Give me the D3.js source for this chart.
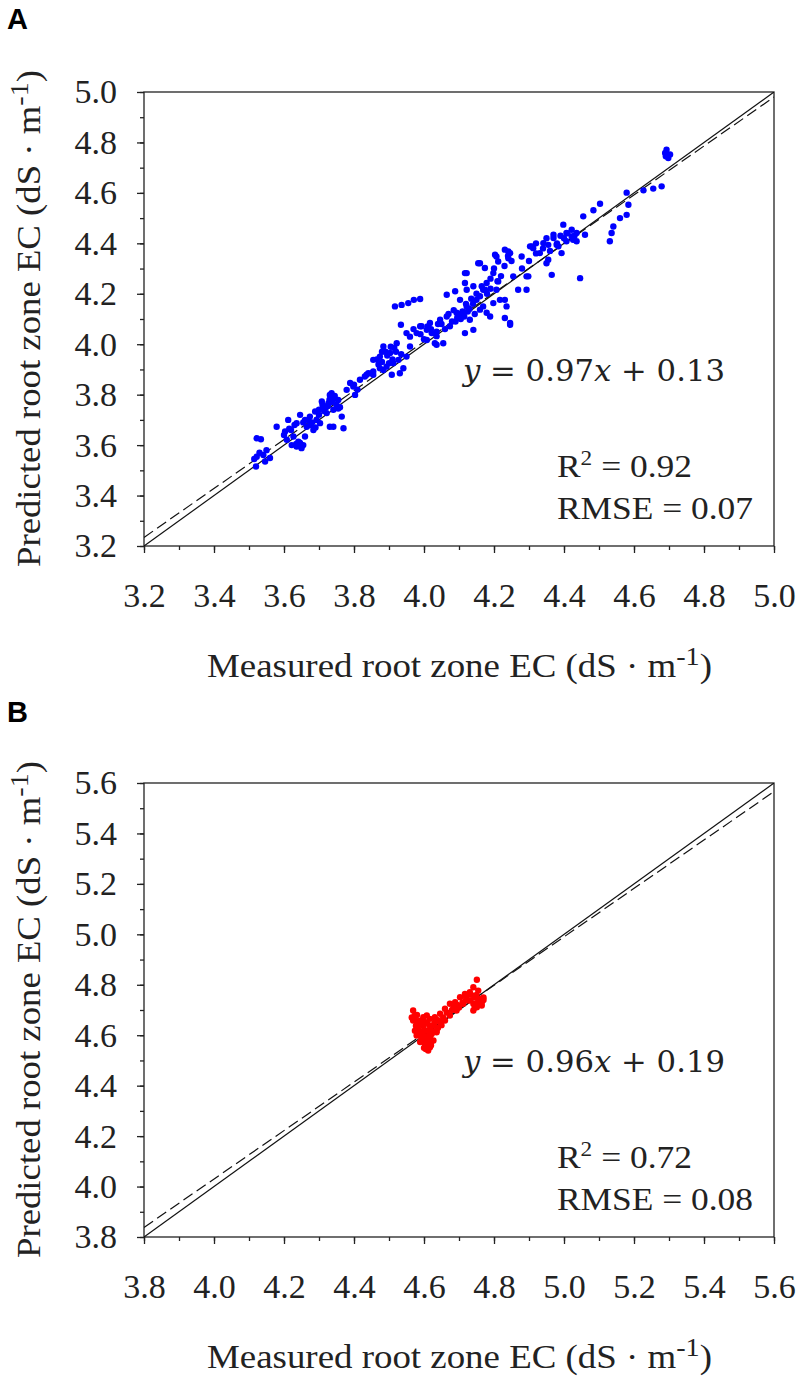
<!DOCTYPE html>
<html>
<head>
<meta charset="utf-8">
<script src="https://cdn.jsdelivr.net/npm/d3@7"></script>
<style>
  body { margin: 0; background: #fff; }
  svg { display: block; }
</style>
</head>
<body>
<svg id="chart" width="800" height="1382"></svg>
<script>
// panel A: measured vs predicted root zone EC (blue)
var measuredA = [
  3.522,3.534,3.522,3.541,3.546,3.520,3.560,3.530,3.550,3.515,
  3.579,3.603,3.608,3.612,3.636,3.641,3.650,3.646,3.665,3.674,
  3.689,3.693,3.712,3.708,3.727,3.736,3.722,3.741,3.731,3.765,
  3.770,3.755,3.779,3.789,3.803,3.817,3.831,3.841,3.627,3.660,
  3.684,3.703,3.622,3.646,3.636,3.650,3.640,3.645,3.655,3.635,
  3.741,3.731,3.798,3.836,3.855,3.620,3.680,3.700,3.720,3.750,
  3.760,3.740,3.660,3.690,3.800,3.810,
  3.700,3.710,3.730,3.745,3.725,3.715,3.755,3.735,
  3.600,3.615,3.630,3.655,3.670,3.675,
  3.855,3.884,3.903,3.912,3.893,3.874,3.922,3.851,3.931,3.908,
  3.950,3.960,3.874,3.927,3.884,3.855,3.941,3.890,3.915,3.935,3.870,
  3.880,3.895,3.905,3.920,3.910,3.900,3.865,3.880,
  3.917,3.936,3.955,3.971,3.989,3.934,
  3.979,3.993,3.950,4.008,4.022,4.036,4.031,3.989,4.008,4.017,
  4.036,4.046,4.065,4.074,4.093,4.103,4.122,4.131,4.141,4.117,
  4.055,4.036,4.065,4.089,4.117,4.122,4.141,4.150,4.160,4.169,
  4.179,4.155,4.174,4.198,4.203,4.212,4.231,4.246,4.241,4.207,
  4.198,4.217,4.236,4.179,4.189,4.231,4.246,4.169,4.255,4.269,
  4.293,4.279,4.298,4.303,4.312,4.331,4.341,4.355,4.365,4.370,
  4.379,4.100,4.110,4.105,4.115,4.095,4.080,4.130,4.140,4.160,
  4.180,4.190,4.210,4.060,4.050,4.000,
  3.960,3.970,3.990,4.010,4.020,4.040,
  4.070,4.085,4.090,4.120,4.125,4.135,4.150,4.165,4.145,
  4.190,4.200,4.220,4.230,4.240,4.250,
  4.280,4.300,4.320,4.350,4.360,4.390,4.410,4.430,
  4.689,4.693,4.698,4.703,4.691,4.679,4.655,4.627,4.579,4.584,
  4.579,4.560,4.541,4.536,4.531,4.503,4.484,4.455,4.446,4.460,
  4.398,4.422,4.436,4.370,4.407,4.384,4.393,4.355,4.350,4.308,
  4.293,4.241,4.207,4.160,4.117,4.122,4.174,4.212,4.231,4.246,
  4.407,4.422,4.436,4.426,4.400,4.380,4.320,4.340
];
var predictedA = [
  3.627,3.623,3.554,3.561,3.535,3.515,3.549,3.570,3.580,3.545,
  3.673,3.654,3.621,3.700,3.687,3.614,3.594,3.720,3.673,3.713,
  3.733,3.700,3.746,3.773,3.766,3.806,3.727,3.740,3.673,3.713,
  3.667,3.779,3.819,3.846,3.799,3.859,3.872,3.885,3.634,3.634,
  3.660,3.687,3.600,3.607,3.594,3.588,3.600,3.610,3.600,3.605,
  3.673,3.799,3.832,3.879,3.892,3.660,3.690,3.720,3.750,3.760,
  3.750,3.780,3.700,3.670,3.840,3.820,
  3.740,3.760,3.780,3.795,3.755,3.735,3.745,3.770,
  3.640,3.665,3.680,3.690,3.700,3.680,
  3.938,3.991,3.965,3.925,3.911,3.905,4.004,3.885,3.885,3.879,
  3.951,3.991,3.951,3.938,3.898,3.879,3.905,3.970,3.985,3.960,3.920,
  3.930,3.955,3.990,3.970,3.940,3.925,3.940,3.970,
  4.150,4.156,4.163,4.176,4.179,4.077,
  4.044,4.071,4.044,4.017,4.044,4.050,4.004,4.071,4.057,4.084,
  4.032,4.097,4.110,4.071,4.125,4.176,4.150,4.097,4.057,4.044,
  4.004,3.998,4.196,4.210,4.243,4.282,4.230,4.176,4.137,4.216,
  4.243,4.321,4.302,4.282,4.355,4.328,4.375,4.361,4.341,4.216,
  4.163,4.176,4.150,4.125,4.110,4.104,4.077,4.150,4.269,4.216,
  4.216,4.348,4.269,4.388,4.381,4.361,4.401,4.335,4.275,4.421,
  4.394,4.120,4.130,4.100,4.110,4.105,4.090,4.140,4.160,4.190,
  4.200,4.220,4.250,4.060,4.080,4.020,
  4.030,4.060,4.040,4.070,4.060,4.080,
  4.120,4.135,4.090,4.160,4.130,4.180,4.200,4.230,4.120,
  4.260,4.300,4.270,4.310,4.350,4.330,
  4.300,4.330,4.400,4.420,4.370,4.430,4.440,4.430,
  4.758,4.771,4.738,4.752,4.745,4.626,4.617,4.610,4.601,4.553,
  4.513,4.500,4.467,4.441,4.408,4.557,4.531,4.507,4.262,4.434,
  4.474,4.427,4.408,4.434,4.408,4.388,4.361,4.394,4.321,4.388,
  4.269,4.368,4.348,4.321,4.282,4.216,4.216,4.249,4.176,4.084,
  4.441,4.454,4.441,4.414,4.420,4.400,4.360,4.380
];

// panel B: measured vs predicted root zone EC (red)
var measuredB = [
  4.751,4.741,4.755,4.731,4.760,4.746,4.765,4.741,4.717,4.703,
  4.689,4.674,4.660,4.646,4.631,4.617,4.608,4.598,4.627,4.646,
  4.660,4.674,4.693,4.712,4.726,4.608,4.622,4.593,4.636,4.617,
  4.569,4.574,4.569,4.577,4.574,4.579,4.589,4.598,4.608,4.565,
  4.593,4.603,4.617,4.612,4.598,4.627,4.636,4.589,4.608,4.731,
  4.751,4.741,4.770,4.765,4.770,4.585,4.600,4.620,4.640,4.650,
  4.680,4.700,4.720,4.755,4.580,4.600,
  4.575,4.580,4.585,4.590,4.595,4.605,4.610,4.615,4.620,4.630,
  4.640,4.655,4.665,4.685,4.695,4.710,4.720,4.735,4.745,4.750,
  4.760,4.755,4.745,4.605,4.620,4.600,4.615
];
var predictedB = [
  4.820,4.790,4.777,4.771,4.744,4.725,4.718,4.698,4.764,4.751,
  4.731,4.725,4.705,4.685,4.671,4.665,4.651,4.638,4.638,4.651,
  4.658,4.678,4.698,4.725,4.738,4.618,4.605,4.605,4.612,4.589,
  4.698,4.678,4.658,4.638,4.618,4.599,4.658,4.671,4.678,4.670,
  4.585,4.565,4.552,4.539,4.599,4.579,4.618,4.573,4.592,4.738,
  4.711,4.725,4.740,4.730,4.750,4.620,4.550,4.570,4.630,4.640,
  4.700,4.710,4.740,4.735,4.640,4.620,
  4.660,4.680,4.640,4.600,4.580,4.575,4.560,4.600,4.620,4.650,
  4.660,4.670,4.690,4.710,4.720,4.730,4.755,4.760,4.750,4.760,
  4.735,4.720,4.710,4.545,4.560,4.655,4.640
];

var domainA = [3.2, 5.0];
var domainB = [3.8, 5.6];
var ticksA = [3.2, 3.4, 3.6, 3.8, 4.0, 4.2, 4.4, 4.6, 4.8, 5.0];
var ticksB = [3.8, 4.0, 4.2, 4.4, 4.6, 4.8, 5.0, 5.2, 5.4, 5.6];
var fitA = [0.97, 0.13];   // slope, intercept
var fitB = [0.96, 0.19];
var statsA = ["0.92", "0.07"];  // R2, RMSE
var statsB = ["0.72", "0.08"];

var serif = "'Liberation Serif', 'Times New Roman', serif";
var svg = d3.select("#chart");
var plotLeft = 144, plotRight = 774, plotHeight = 454;
var fmt = d3.format(".1f");

function unitTitle(g, text, size) {
  g.append("tspan").text(text + " (dS \u00b7 m");
  g.append("tspan").attr("font-size", 26).attr("dy", -12).text("-1");
  g.append("tspan").attr("dy", 12).text(")");
}

function drawPanel(p) {
  var top = p.top, bottom = p.top + plotHeight;
  var g = svg.append("g");
  var x = d3.scaleLinear().domain(p.domain).range([plotLeft, plotRight]);
  var y = d3.scaleLinear().domain(p.domain).range([bottom, top]);

  var clipId = "clip" + p.label;
  g.append("clipPath").attr("id", clipId)
    .append("rect").attr("x", plotLeft).attr("y", top)
    .attr("width", plotRight - plotLeft).attr("height", plotHeight);

  var minor = d3.range(p.domain[0], p.domain[1] + 0.001, 0.1).map(function(v){ return +v.toFixed(1); });

  // minor ticks
  g.append("g").attr("transform", "translate(0," + bottom + ")")
    .call(d3.axisBottom(x).tickValues(minor).tickSize(4).tickFormat(""))
    .call(function(a){ a.select(".domain").remove(); });
  g.append("g").attr("transform", "translate(" + plotLeft + ",0)")
    .call(d3.axisLeft(y).tickValues(minor).tickSize(4).tickFormat(""))
    .call(function(a){ a.select(".domain").remove(); });

  // major ticks and labels
  var xAxis = g.append("g").attr("transform", "translate(0," + bottom + ")")
    .call(d3.axisBottom(x).tickValues(p.ticks).tickSize(7).tickPadding(30).tickFormat(fmt));
  var yAxis = g.append("g").attr("transform", "translate(" + plotLeft + ",0)")
    .call(d3.axisLeft(y).tickValues(p.ticks).tickSize(7).tickPadding(20).tickFormat(fmt));
  [xAxis, yAxis].forEach(function(a){
    a.select(".domain").remove();
    a.selectAll("text").attr("font-family", serif).attr("font-size", 34).attr("fill", "#222");
  });
  g.selectAll(".tick line").attr("stroke", "#222").attr("stroke-width", 1.3);

  // frame
  g.append("rect").attr("x", plotLeft).attr("y", top)
    .attr("width", plotRight - plotLeft).attr("height", plotHeight)
    .attr("fill", "none").attr("stroke", "#222").attr("stroke-width", 1.3);

  // 1:1 line and fitted line
  var lines = g.append("g").attr("clip-path", "url(#" + clipId + ")");
  var line = d3.line().x(function(d){ return x(d[0]); }).y(function(d){ return y(d[1]); });
  lines.append("path")
    .attr("d", line([[p.domain[0], p.domain[0]], [p.domain[1], p.domain[1]]]))
    .attr("stroke", "#111").attr("stroke-width", 1.2).attr("fill", "none");
  lines.append("path")
    .attr("d", line(p.domain.map(function(v){ return [v, p.fit[0] * v + p.fit[1]]; })))
    .attr("stroke", "#111").attr("stroke-width", 1.2).attr("fill", "none")
    .attr("stroke-dasharray", "11,5");

  // points
  g.append("g").selectAll("circle")
    .data(p.xs.map(function(v, i){ return [v, p.ys[i]]; }))
    .enter().append("circle")
    .attr("cx", function(d){ return x(d[0]); })
    .attr("cy", function(d){ return y(d[1]); })
    .attr("r", 3.2)
    .attr("fill", p.color);

  // equation and stats
  var eq = g.append("text").attr("x", 463).attr("y", top + 289)
    .attr("textLength", 262).attr("lengthAdjust", "spacingAndGlyphs")
    .attr("font-family", "'DejaVu Serif', serif").attr("font-size", 30).attr("fill", "#222");
  eq.append("tspan").attr("font-style", "italic").text("y");
  eq.append("tspan").text(" = " + p.fit[0].toFixed(2));
  eq.append("tspan").attr("font-style", "italic").text("x");
  eq.append("tspan").text(" + " + p.fit[1].toFixed(2));

  var r2 = g.append("text").attr("x", 557).attr("y", top + 385)
    .attr("textLength", 135).attr("lengthAdjust", "spacingAndGlyphs")
    .attr("font-family", serif).attr("font-size", 32).attr("fill", "#222");
  r2.append("tspan").text("R");
  r2.append("tspan").attr("font-size", 21).attr("dy", -12).text("2");
  r2.append("tspan").attr("dy", 12).text(" = " + p.stats[0]);
  g.append("text").attr("x", 557).attr("y", top + 427)
    .attr("textLength", 196).attr("lengthAdjust", "spacingAndGlyphs")
    .attr("font-family", serif).attr("font-size", 32).attr("fill", "#222")
    .text("RMSE = " + p.stats[1]);

  // axis titles
  var xt = g.append("text").attr("x", 207).attr("y", bottom + 131)
    .attr("textLength", 505).attr("lengthAdjust", "spacingAndGlyphs")
    .attr("font-family", serif).attr("font-size", 34).attr("fill", "#222");
  unitTitle(xt, "Measured root zone EC");

  var yt = g.append("text")
    .attr("transform", "translate(40," + (top + plotHeight / 2 + 248) + ") rotate(-90)")
    .attr("textLength", 497).attr("lengthAdjust", "spacingAndGlyphs")
    .attr("font-family", serif).attr("font-size", 34).attr("fill", "#222");
  unitTitle(yt, "Predicted root zone EC");

  // panel letter
  g.append("text").attr("x", 7).attr("y", p.letterY)
    .attr("font-family", "'Liberation Sans', Arial, sans-serif")
    .attr("font-weight", "bold").attr("font-size", 29).attr("fill", "#000")
    .text(p.label);
}

drawPanel({ label: "A", top: 92, letterY: 29, domain: domainA, ticks: ticksA,
  xs: measuredA, ys: predictedA, color: "#0000ff", fit: fitA, stats: statsA });
drawPanel({ label: "B", top: 783, letterY: 722, domain: domainB, ticks: ticksB,
  xs: measuredB, ys: predictedB, color: "#ff0000", fit: fitB, stats: statsB });
</script>
</body>
</html>
